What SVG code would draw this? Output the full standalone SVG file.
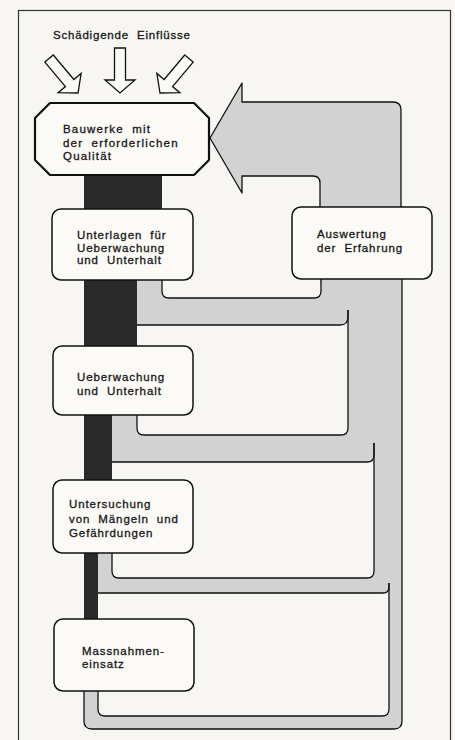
<svg xmlns="http://www.w3.org/2000/svg" width="455" height="740" viewBox="0 0 455 740">
<defs>
<style>
.bg{fill:#f7f6f2}
.frame{fill:none;stroke:#333;stroke-width:1.2}
.box{fill:#fbfaf7;stroke:#111;stroke-width:1.5}
.oct{fill:#fbfaf7;stroke:#111;stroke-width:2.2;stroke-linejoin:round}
.dark{fill:#2a2a2a}
.grey{fill:#d2d2d2}
.edge{fill:none;stroke:#111;stroke-width:1.3;stroke-linejoin:round}
.hollow{fill:#fbfaf7;stroke:#111;stroke-width:1.3;stroke-linejoin:miter}
text{font-family:"Liberation Sans",Arial,sans-serif;font-size:11.5px;fill:#161616;stroke:#161616;stroke-width:0.3px;letter-spacing:0.9px;word-spacing:4px}
.ot{letter-spacing:1.2px}
</style>
<path id="harrow" d="M-5.5,-45 L5.5,-45 L5.5,-13 L15,-13 L0,0 L-15,-13 L-5.5,-13 Z"/>
</defs>
<rect class="bg" x="0" y="0" width="455" height="740"/>
<rect class="frame" x="18.5" y="10.5" width="432" height="740"/>

<g id="title">
<text x="53" y="39" style="letter-spacing:0.8px">Schädigende Einflüsse</text>
<use href="#harrow" class="hollow" transform="translate(78,93) rotate(-40)"/>
<use href="#harrow" class="hollow" transform="translate(120,93)"/>
<use href="#harrow" class="hollow" transform="translate(160,93) rotate(40)"/>
</g>

<g id="connectors">
<!-- dark main bar -->
<rect class="dark" x="84" y="174" width="78" height="36"/>
<rect class="dark" x="84" y="205" width="53" height="142"/>
<rect class="dark" x="84" y="340" width="28" height="141"/>
<rect class="dark" x="84" y="475" width="14" height="145"/>
<!-- grey feedback bands -->
<path class="grey" d="M210,138 L242,83 L242,102 L393,102 Q401,102 401,110 L401,210 L320,210 L320,183 Q320,176 313,176 L242,176 L242,193 Z"/>
<rect class="grey" x="320" y="205" width="82" height="80"/>
<path class="grey" d="M137,279 L162,279 L162,291 Q162,298 169,298 L314,298 Q321,298 321,291 L321,279 L348,279 L348,317 Q348,325 340,325 L137,325 Z"/>
<path class="grey" d="M112,414 L137,414 L137,428 Q137,435 144,435 L341,435 Q348,435 348,428 L348,279 L374,279 L374,455 Q374,462 367,462 L112,462 Z"/>
<path class="grey" d="M98,552 L112,552 L112,571 Q112,578 119,578 L367,578 Q374,578 374,571 L374,279 L389,279 L389,587 Q389,593 383,593 L98,593 Z"/>
<path class="grey" d="M84,690 L98,690 L98,709 Q98,716 105,716 L382,716 Q389,716 389,709 L389,279 L402,279 L402,721 Q402,729 394,729 L92,729 Q84,729 84,721 Z"/>
<!-- outlines -->
<path class="edge" d="M320,208 L320,183 Q320,176 313,176 L242,176 L242,193 L210,138 L242,83 L242,102 L393,102 Q401,102 401,110 L401,208"/>
<path class="edge" d="M162,280 L162,291 Q162,298 169,298 L314,298 Q321,298 321,291 L321,279"/>
<path class="edge" d="M137,325 L340,325 Q348,325 348,317 L348,310"/>
<path class="edge" d="M137,415 L137,428 Q137,435 144,435 L341,435 Q348,435 348,428 L348,310"/>
<path class="edge" d="M112,462 L367,462 Q374,462 374,455 L374,443"/>
<path class="edge" d="M112,553 L112,571 Q112,578 119,578 L367,578 Q374,578 374,571 L374,443"/>
<path class="edge" d="M98,593 L383,593 Q389,593 389,587 L389,583"/>
<path class="edge" d="M98,691 L98,709 Q98,716 105,716 L382,716 Q389,716 389,709 L389,583"/>
<path class="edge" d="M402,279 L402,721 Q402,729 394,729 L92,729 Q84,729 84,721 L84,691"/>
</g>

<g id="bauwerke">
<path class="oct" d="M50,103 L194,103 L209,118 L209,160 L194,175 L50,175 L35,160 L35,118 Z"/>
<text class="ot" x="63" y="133">Bauwerke mit</text>
<text class="ot" x="63" y="147">der erforderlichen</text>
<text class="ot" x="63" y="160">Qualität</text>
</g>

<g id="unterlagen">
<rect class="box" x="52" y="209" width="141" height="71" rx="9"/>
<text x="77" y="239">Unterlagen für</text>
<text x="77" y="252">Ueberwachung</text>
<text x="77" y="264">und Unterhalt</text>
</g>

<g id="auswertung">
<rect class="box" x="292" y="207" width="140" height="72" rx="9"/>
<text x="317" y="238">Auswertung</text>
<text x="317" y="252">der Erfahrung</text>
</g>

<g id="ueberwachung">
<rect class="box" x="53" y="346" width="140" height="69" rx="9"/>
<text x="77" y="381">Ueberwachung</text>
<text x="77" y="395">und Unterhalt</text>
</g>

<g id="untersuchung">
<rect class="box" x="53" y="480" width="140" height="73" rx="9"/>
<text x="69" y="508">Untersuchung</text>
<text x="69" y="523">von Mängeln und</text>
<text x="69" y="537">Gefährdungen</text>
</g>

<g id="massnahmen">
<rect class="box" x="54" y="619" width="140" height="72" rx="9"/>
<text x="82" y="655">Massnahmen-</text>
<text x="82" y="668">einsatz</text>
</g>
</svg>
